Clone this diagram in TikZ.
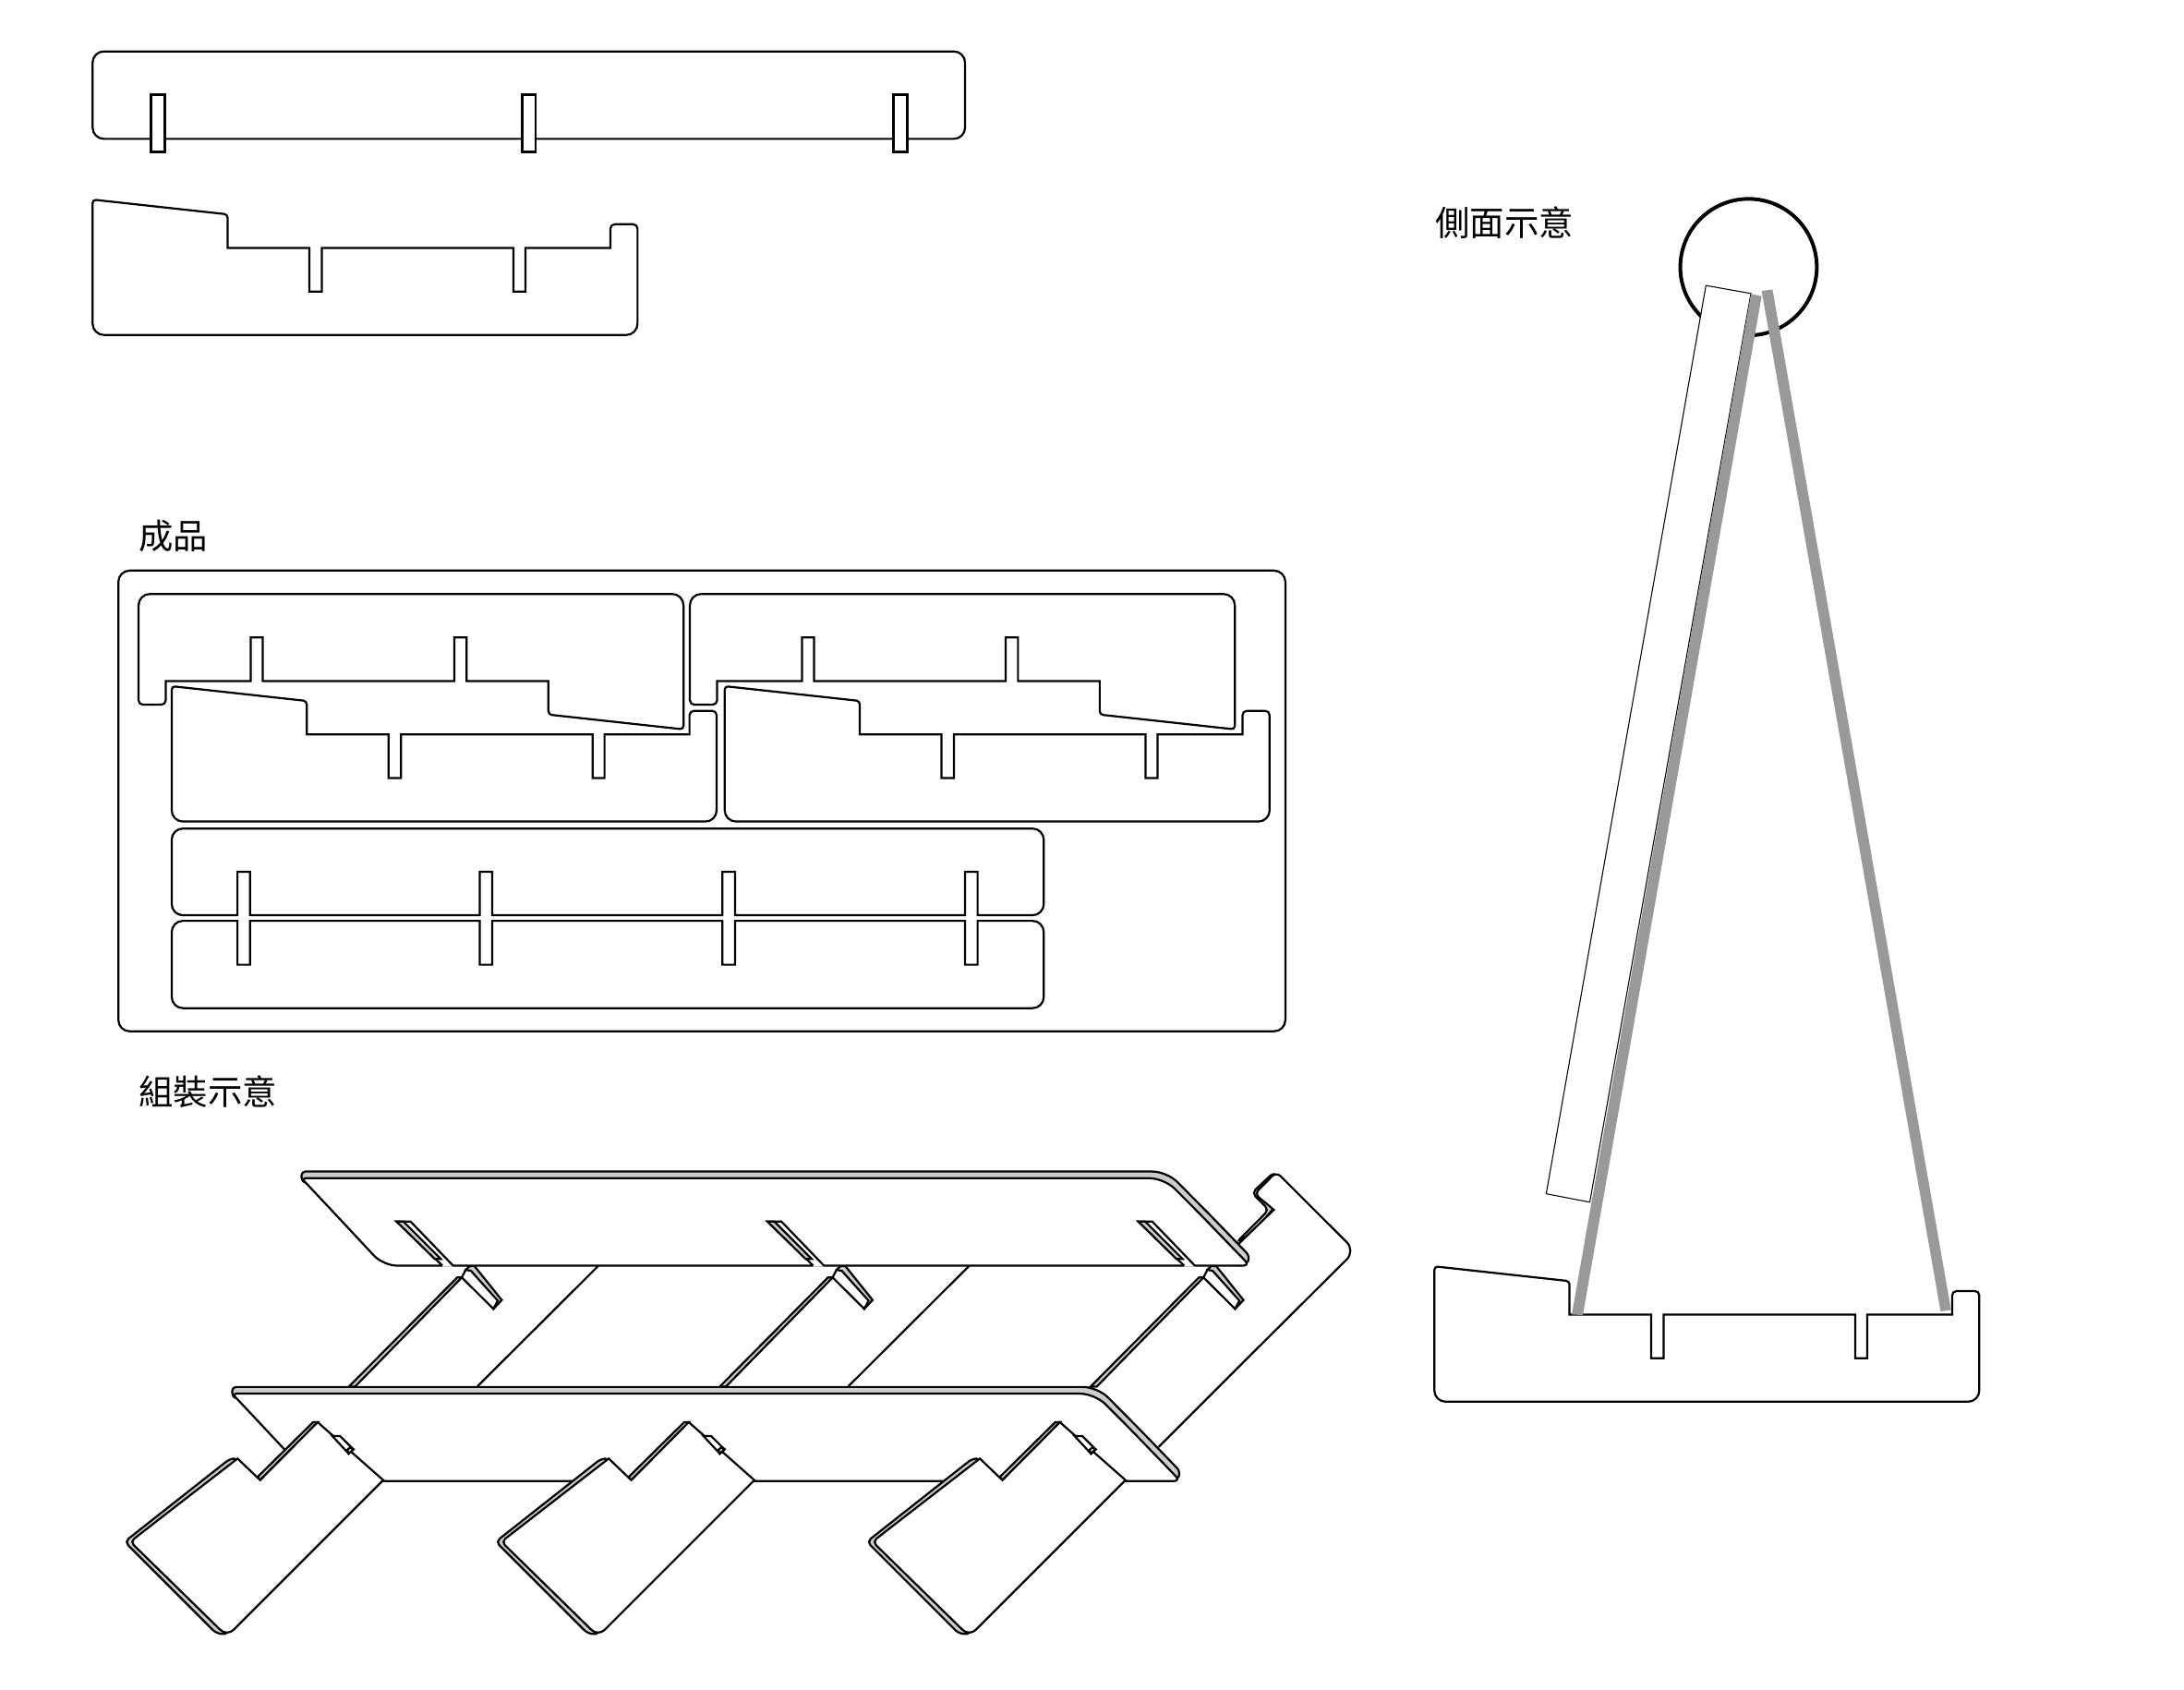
\documentclass[tikz,border=0pt]{standalone}
\usepackage{fontspec}
\newfontfamily\cjk{Noto Sans CJK TC}
\definecolor{bandgray}{gray}{0.8}
\definecolor{bargray}{gray}{0.6}
\tikzset{
  cut/.style={draw,line width=0.42pt,fill=white,line join=miter},
  band/.style={draw,line width=0.42pt,fill=bandgray},
  caption/.style={font=\cjk\fontsize{7.05pt}{8pt}\selectfont,anchor=west,inner sep=0pt},
  sidepart/.pic={
    \draw[cut] (0,50) [rounded corners=0.7pt] -- (0,0) -- (97,10.6) -- (97,22) [sharp corners] -- (97,34.7)
      -- (155.7,34.7) -- (155.7,66) -- (164.6,66) -- (164.6,34.7)
      -- (302.2,34.7) -- (302.2,66) -- (310.8,66) -- (310.8,34.7)
      -- (371.8,34.7) -- (371.8,28) [rounded corners=0.9pt] -- (371.8,17.7) -- (391.3,17.7) -- (391.3,60)
      [rounded corners=2.3pt] -- (391.3,97.2) -- (0,97.2) -- cycle;
  },
  isoboard/.pic={
    \draw[band] (216.5,849) [rounded corners=0.8pt] -- (216.5,841.2) -- (500,841.2) [rounded corners=3pt] -- (838,841.2) -- (870,873.5) [rounded corners=1pt] -- (897.5,902) -- (895,908.8) -- (400,880) -- cycle;
    \draw[cut] (400,846) [rounded corners=3pt] -- (836,846) -- (860,870) [rounded corners=1.4pt] -- (897.5,908.8) -- (500,908.8) [rounded corners=2.8pt] -- (275.3,908.8) -- (240,871) [rounded corners=0.8pt] -- (216.5,846) -- cycle;
  },
  isojoint/.pic={
    \draw[band] (328.3,917.3) -- (331.6,917.3) -- (254.9,995.7) -- (250.5,995.7) -- cycle;
    \draw[band] (334.4,911.8) -- (337.1,909.2) -- (340.8,909.2) -- (360.3,933.5) -- (354.3,939.8) -- cycle;
    \draw[cut] (331.6,917.3) -- (354.3,939.8) -- (357.4,933.9) -- (338.2,912.5) -- (334.4,911.8) -- cycle;
  },
  isoslot/.pic={
    \fill[white] (284.8,877.1) -- (294.8,877.1) -- (325.4,909.5) -- (317.7,909.5) -- cycle;
    \draw[line width=0.42pt] (317.7,908.8) -- (284.8,877.1) -- (294.8,877.1) -- (325.4,908.8);
    \draw[band] (284.8,877.1) -- (289.7,877.1) -- (316.6,904) -- (312.2,904) -- cycle;
  },
  isofoot/.pic={
    \draw[band] (224.8,1021.2) -- (228.1,1021.2) -- (186.8,1062.8) -- (185,1060.5) -- cycle;
    \draw[band,rounded corners=1pt] (170.6,1047.3) -- (165.3,1047.3) -- (89.5,1107) -- (155.5,1173) -- (164,1173.5) -- (130,1120) -- cycle;
    \draw[cut] (228.1,1021.2) -- (275.2,1062.8) -- (220,1118) [rounded corners=1.9pt] -- (163,1175) -- (130,1142.7) [rounded corners=1pt] -- (93.5,1107) -- (130,1078.7) [sharp corners] -- (170.6,1047.3) -- (186.8,1062.8) -- cycle;
    \draw[cut] (238.7,1031.2) -- (244.2,1031.2) -- (253.8,1040.7) -- (250.4,1043.8) -- cycle;
    \draw[band] (251.5,1039.3) -- (253.8,1040.7) -- (250.4,1043.8) -- (249.3,1041.1) -- cycle;
  }
}
\begin{document}
\begin{tikzpicture}[x=0.01cm,y=-0.01cm]
  \useasboundingbox (0,0) rectangle (1568.3,1213.5);

  \draw[cut,rounded corners=2.3pt] (66.5,36.9) rectangle (693,99.7);
  \foreach \x in {113.3,379.7,646.4}
    \draw[cut,line width=0.55pt] (\x-4.9,67.7) rectangle (\x+4.9,109);
  \pic (part_side) at (66.5,143.3) {sidepart};

  \node (cap_done) [caption] at (99,385) {成品};
  \draw[cut,rounded corners=2.3pt] (85,409.7) rectangle (923,740.5);
  \pic[rotate=180] (part_a) at (490.8,523.7) {sidepart};
  \pic[rotate=180] (part_b) at (886.7,523.7) {sidepart};
  \pic (part_c) at (123.3,492.7) {sidepart};
  \pic (part_d) at (520.4,492.7) {sidepart};
  \draw[cut] (123.3,625) [rounded corners=2.3pt] -- (123.3,594.9) -- (749.5,594.9) -- (749.5,657.2) -- (725,657.2) [sharp corners]
    \foreach \x in {697.5,523.3,349,175} { -- (\x+4.5,657.2) -- (\x+4.5,625.9) -- (\x-4.5,625.9) -- (\x-4.5,657.2) }
    -- (150,657.2) [rounded corners=2.3pt] -- (123.3,657.2) -- cycle;
  \draw[cut] (123.3,690) [rounded corners=2.3pt] -- (123.3,661.2) -- (150,661.2) [sharp corners]
    \foreach \x in {175,349,523.3,697.5} { -- (\x-4.5,661.2) -- (\x-4.5,692.7) -- (\x+4.5,692.7) -- (\x+4.5,661.2) }
    -- (725,661.2) [rounded corners=2.3pt] -- (749.5,661.2) -- (749.5,723.9) -- (123.3,723.9) -- cycle;

  \node (cap_build) [caption] at (99,784) {組裝示意};
  \draw[band,rounded corners=1pt] (888,892) -- (911.1,868.7) -- (899,856.5) -- (915,841.5) -- (925,855) -- (900,885) -- cycle;
  \draw[cut] (832,1039) -- (900,971) [rounded corners=2.5pt] -- (973.3,898.1) -- (945,870) [rounded corners=1.2pt] -- (916.5,841.5) -- (900.8,857.3) -- (908,863) [sharp corners] -- (914.7,868.7) -- (887.5,895);
  \foreach \k in {0,1}
    \draw[line width=0.42pt] (429.6+\k*266.3,909) -- (342.9+\k*266.3,995.4);
  \foreach \k in {0,1,2} {
    \pic (joint_\k) at (\k*266.3,0) {isojoint};
  }
  \pic (board_back) at (0,0) {isoboard};
  \foreach \k in {0,1,2} {
    \pic (slot_\k) at (\k*266.3,0) {isoslot};
  }
  \pic (board_front) at (-49.8,154.7) {isoboard};
  \foreach \k in {0,1,2} {
    \pic (foot_\k) at (\k*266.5,0) {isofoot};
  }

  \node (cap_side) [caption] at (1030,160) {側面示意};
  \draw[line width=0.75pt] (1255.6,191.8) circle (49);
  \draw[cut,line width=0.2pt] (1225,205) -- (1257.3,210.7) -- (1141.6,863.2) -- (1110.3,857.2) -- cycle;
  \pic (part_base) at (1030,909.3) {sidepart};
  \fill[bargray] (1257.3,211) -- (1265,212.7) -- (1136.6,944.3) -- (1128.7,943.9) -- cycle;
  \fill[bargray] (1265,208.9) -- (1272.8,207.8) -- (1401,940.6) -- (1393.5,941.6) -- cycle;
\end{tikzpicture}
\end{document}
